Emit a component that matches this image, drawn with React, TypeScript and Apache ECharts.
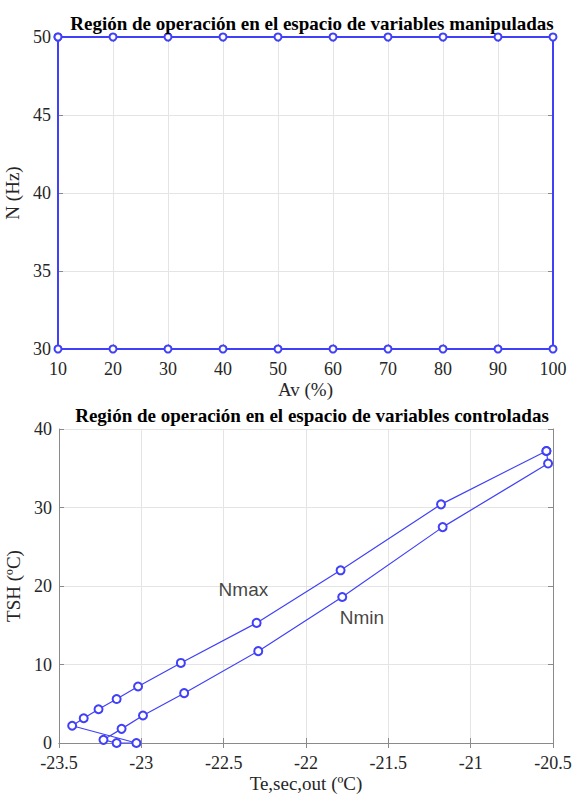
import React, { useEffect, useRef } from "react";
import * as echarts from "echarts";

// ---- Data: manipulated variables (top chart) ----
const avValues = [10, 20, 30, 40, 50, 60, 70, 80, 90, 100];
const nMaxHz = 50;
const nMinHz = 30;

// ---- Data: controlled variables (bottom chart) ----
// Nmax branch, Av from 100 down to 10
const teNmax = [-20.54, -21.18, -21.79, -22.3, -22.76, -23.02, -23.15, -23.26, -23.35, -23.42];
const tshNmax = [37.2, 30.4, 22.0, 15.3, 10.2, 7.2, 5.6, 4.3, 3.15, 2.2];
// Nmin branch, Av from 10 up to 100
const teNmin = [-23.03, -23.15, -23.23, -23.12, -22.99, -22.74, -22.29, -21.78, -21.17, -20.53];
const tshNmin = [0.0, 0.0, 0.4, 1.8, 3.5, 6.35, 11.7, 18.6, 27.5, 35.6];

const annotations = [
  { name: "Nmax", x: -22.38, y: 19.5 },
  { name: "Nmin", x: -21.66, y: 16.05 },
];

const topTitle = "Región de operación en el espacio de variables manipuladas";
const bottomTitle = "Región de operación en el espacio de variables controladas";

const BLUE = "#4040f8";
const SERIF = "Liberation Serif, Times New Roman, serif";
const SANS = "Liberation Sans, Arial, sans-serif";

export default function App() {
  const ref = useRef<HTMLDivElement>(null);

  useEffect(() => {
    document.body.style.margin = "0";
    if (!ref.current) return;
    const chart = echarts.init(ref.current, undefined, { renderer: "svg" });

    // closed rectangle for top chart
    const topData: number[][] = [];
    avValues.forEach((a) => topData.push([a, nMaxHz]));
    [...avValues].reverse().forEach((a) => topData.push([a, nMinHz]));
    topData.push([avValues[0], nMaxHz]);

    // closed polygon for bottom chart
    const botData: number[][] = [];
    teNmax.forEach((t, i) => botData.push([t, tshNmax[i]]));
    teNmin.forEach((t, i) => botData.push([t, tshNmin[i]]));
    botData.push([teNmax[0], tshNmax[0]]);

    const tickLabel = { fontFamily: SERIF, fontSize: 18, color: "#262626" };
    const gridLine = { show: true, lineStyle: { color: "#e4e4e4", width: 1 } };
    const boxLine = { show: true, lineStyle: { color: "#8a8a8a", width: 1 } };
    const nameStyle = { fontFamily: SERIF, fontSize: 19, color: "#262626" };

    const mkX = (grid: number, min: number, max: number, interval: number, name: string, pos: string, main: boolean) => ({
      type: "value",
      gridIndex: grid,
      min,
      max,
      interval,
      position: pos,
      name: main ? name : "",
      nameLocation: "middle",
      nameGap: 31,
      nameTextStyle: nameStyle,
      axisLine: boxLine,
      axisTick: { show: true, inside: true, length: 5, lineStyle: { color: "#8a8a8a" } },
      axisLabel: main ? { ...tickLabel, margin: 11 } : { show: false },
      splitLine: main ? gridLine : { show: false },
    });
    const mkY = (grid: number, min: number, max: number, interval: number, name: string, pos: string, main: boolean) => ({
      type: "value",
      gridIndex: grid,
      min,
      max,
      interval,
      position: pos,
      name: main ? name : "",
      nameLocation: "middle",
      nameGap: 31,
      nameTextStyle: nameStyle,
      axisLine: boxLine,
      axisTick: { show: true, inside: true, length: 5, lineStyle: { color: "#8a8a8a" } },
      axisLabel: main ? { ...tickLabel, margin: 7 } : { show: false },
      splitLine: main ? gridLine : { show: false },
    });

    chart.setOption({
      animation: false,
      backgroundColor: "#ffffff",
      title: [
        {
          text: topTitle,
          left: 307,
          textAlign: "center",
          top: 9,
          textStyle: { fontFamily: SERIF, fontSize: 19, fontWeight: "bold", color: "#000" },
        },
        {
          text: bottomTitle,
          left: 307,
          textAlign: "center",
          top: 401,
          textStyle: { fontFamily: SERIF, fontSize: 19, fontWeight: "bold", color: "#000" },
        },
      ],
      grid: [
        { left: 58, top: 37, width: 495, height: 312, containLabel: false, outerBoundsMode: "none" },
        { left: 59, top: 429, width: 494, height: 314, containLabel: false, outerBoundsMode: "none" },
      ],
      xAxis: [
        mkX(0, 10, 100, 10, "Av (%)", "bottom", true),
        mkX(0, 10, 100, 10, "", "top", false),
        mkX(1, -23.5, -20.5, 0.5, "Te,sec,out (ºC)", "bottom", true),
        mkX(1, -23.5, -20.5, 0.5, "", "top", false),
      ],
      yAxis: [
        mkY(0, 30, 50, 5, "N (Hz)", "left", true),
        mkY(0, 30, 50, 5, "", "right", false),
        mkY(1, 0, 40, 10, "TSH (ºC)", "left", true),
        mkY(1, 0, 40, 10, "", "right", false),
      ],
      series: [
        {
          type: "line",
          xAxisIndex: 0,
          yAxisIndex: 0,
          data: topData,
          symbol: "emptyCircle",
          symbolSize: 7,
          lineStyle: { color: BLUE, width: 2 },
          itemStyle: { color: BLUE, borderWidth: 1 },
          clip: false,
        },
        {
          type: "line",
          xAxisIndex: 2,
          yAxisIndex: 2,
          data: botData,
          symbol: "emptyCircle",
          symbolSize: 8,
          lineStyle: { color: BLUE, width: 1.2 },
          itemStyle: { color: BLUE, borderWidth: 0.9 },
          clip: false,
        },
        {
          type: "scatter",
          xAxisIndex: 2,
          yAxisIndex: 2,
          symbolSize: 0,
          data: annotations.map((a) => ({ name: a.name, value: [a.x, a.y] })),
          label: {
            show: true,
            position: "inside",
            formatter: (p: any) => p.name,
            fontFamily: SANS,
            fontSize: 19,
            color: "#111",
          },
        },
      ],
    });

    return () => chart.dispose();
  }, []);

  return <div ref={ref} style={{ width: 574, height: 794 }} />;
}
